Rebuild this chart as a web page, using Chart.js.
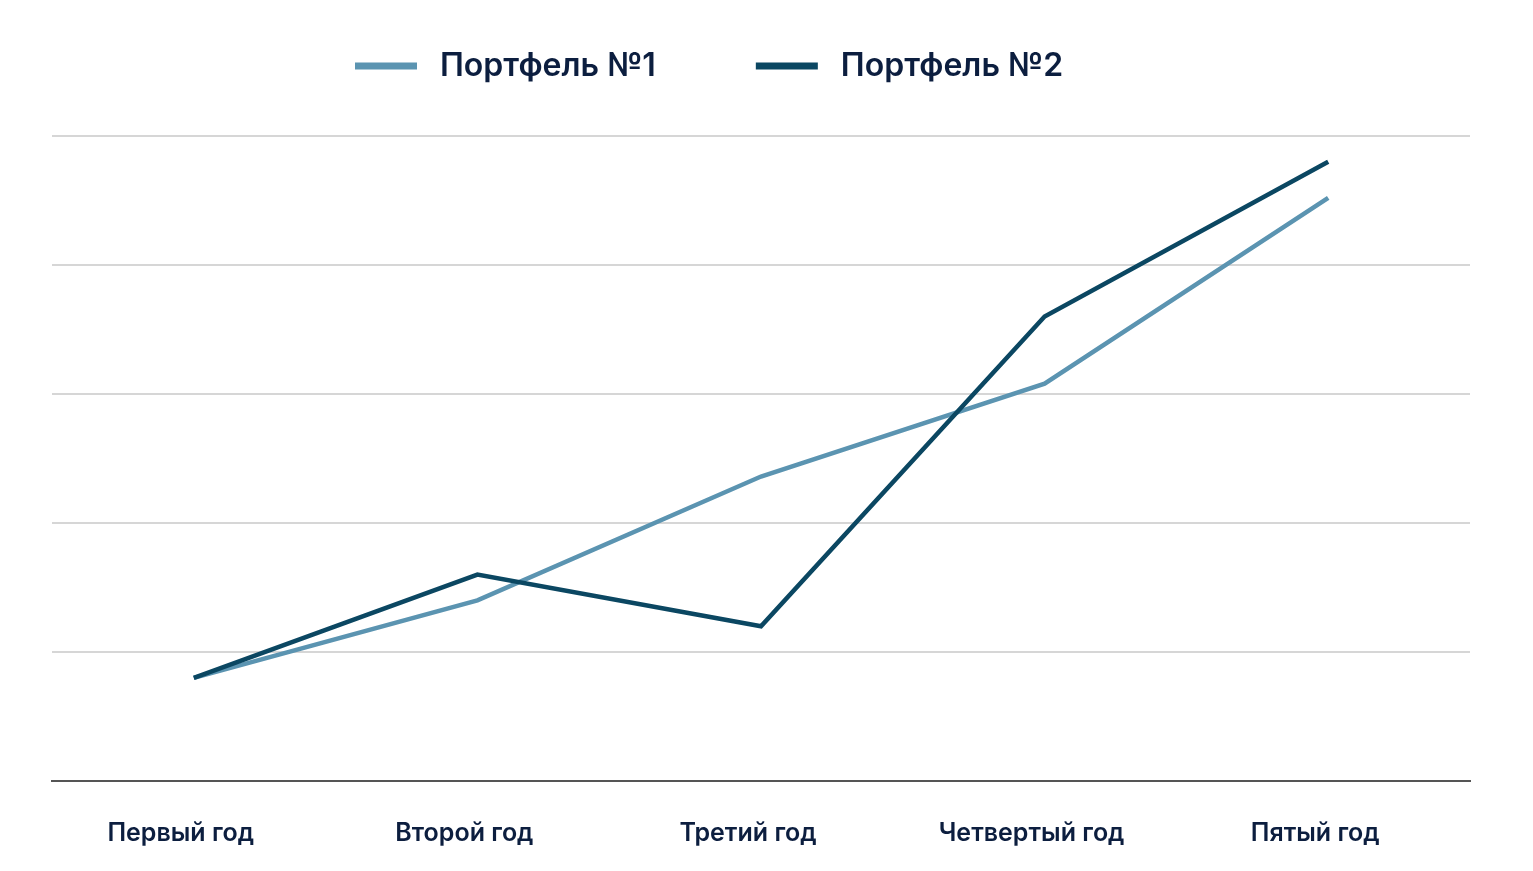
<!DOCTYPE html>
<html lang="ru">
<head>
<meta charset="utf-8">
<title>Портфели</title>
<script src="https://cdn.jsdelivr.net/npm/chart.js@4"></script>
<style>
    html, body { margin: 0; padding: 0; background: #fff; }
    #wrap { width: 1533px; height: 871px; }
</style>
</head>
<body>
<div id="wrap"><canvas id="chart"></canvas></div>
<script>
const years = ['Первый год', 'Второй год', 'Третий год', 'Четвертый год', 'Пятый год'];
const portfolio1 = [0.8, 1.4, 2.36, 3.08, 4.52];
const portfolio2 = [0.8, 1.6, 1.2, 3.6, 4.8];
const seriesNames = ['Портфель №1', 'Портфель №2'];

const TEXT = '#0c1e3f';

/**
 * Legend drawn above the plot: line swatch + label
 */
const topLegend = {
    id: 'topLegend',
    afterDraw(chart) {
        const ctx = chart.ctx;
        ctx.save();
        ctx.font = '600 32px Inter';
        ctx.textBaseline = 'middle';
        let x = 355;
        const y = 66;
        chart.data.datasets.forEach(ds => {
            ctx.fillStyle = ds.borderColor;
            ctx.fillRect(x, y - 3.5, 62, 7);
            x += 62 + 23;
            ctx.fillStyle = TEXT;
            ctx.fillText(ds.label, x, y);
            x += ctx.measureText(ds.label).width + 100;
        });
        ctx.restore();
    }
};

new Chart(document.getElementById('chart'), {
    type: 'line',
    data: {
        labels: years,
        datasets: [{
            label: seriesNames[0],
            data: portfolio1,
            borderColor: '#5b94b1',
            borderWidth: 4.5,
            pointRadius: 0,
            tension: 0,
            order: 2,
        }, {
            label: seriesNames[1],
            data: portfolio2,
            borderColor: '#0b4762',
            borderWidth: 4.5,
            pointRadius: 0,
            tension: 0,
            order: 1,
        }]
    },
    options: {
        responsive: true,
        maintainAspectRatio: false,
        animation: false,
        layout: { padding: { top: 136, left: 52, right: 63, bottom: 0 } },
        plugins: {
            legend: { display: false },
            tooltip: { enabled: false },
        },
        scales: {
            x: {
                offset: true,
                grid: { display: false },
                border: { color: '#555', width: 2 },
                ticks: {
                    color: TEXT,
                    font: { family: 'Inter', size: 25, weight: '600' },
                    padding: 29,
                    labelOffset: -13,
                    maxRotation: 0,
                },
                afterFit(scale) { scale.height = 90; },
            },
            y: {
                min: 0,
                max: 5,
                ticks: { display: false, stepSize: 1 },
                border: { display: false },
                grid: { color: '#d6d6d6', lineWidth: 2, drawTicks: false },
            }
        }
    },
    plugins: [topLegend]
});
</script>
</body>
</html>
